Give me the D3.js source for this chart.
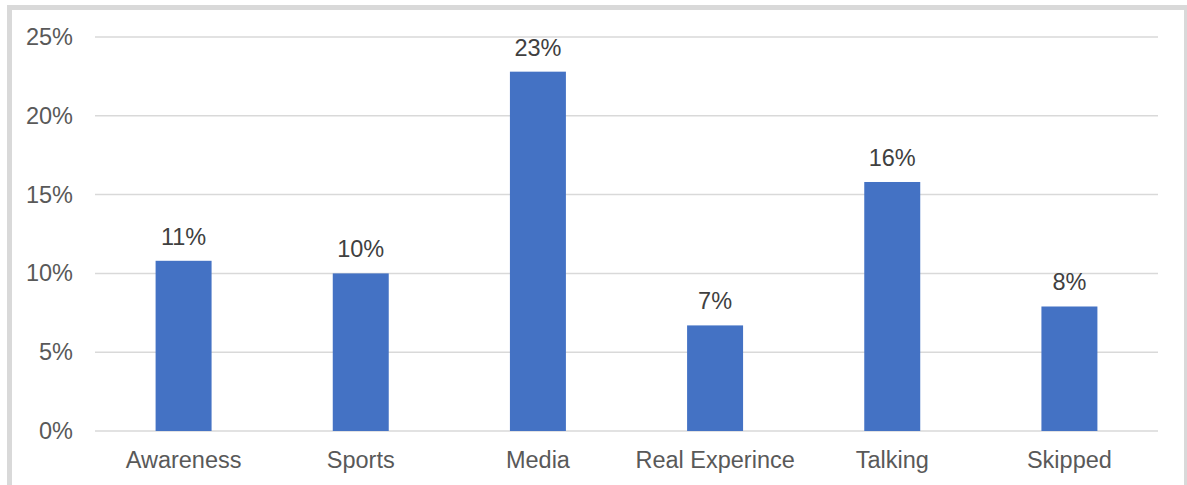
<!DOCTYPE html>
<html>
<head>
<meta charset="utf-8">
<script src="https://cdn.jsdelivr.net/npm/d3@7"></script>
<style>
  html, body { margin: 0; padding: 0; background: #fff; overflow: hidden; }
  svg { display: block; }
</style>
</head>
<body>
<svg id="chart" width="1187" height="485"></svg>
<script>
// Share of responses per source
const categories = ["Awareness", "Sports", "Media", "Real Experince", "Talking", "Skipped"];
const values = [0.108, 0.100, 0.228, 0.067, 0.158, 0.079];
const yTicks = [0, 0.05, 0.10, 0.15, 0.20, 0.25];

const svg = d3.select("#chart");
const font = "'Liberation Sans', Arial, sans-serif";
const fontSize = "23.5px";
const textColor = "#595959";

// Outer frame
svg.append("rect")
  .attr("x", 9.5).attr("y", 7.5)
  .attr("width", 1177).attr("height", 490)
  .attr("fill", "none")
  .attr("stroke", "#d9d9d9")
  .attr("stroke-width", 5);

const plot = { left: 95, right: 1158, top: 37, bottom: 431 };

const x = d3.scaleBand().domain(categories).range([plot.left, plot.right]).padding(0);
const y = d3.scaleLinear().domain([0, 0.25]).range([plot.bottom, plot.top]);
const barW = x.bandwidth() * 0.316;

// Horizontal gridlines
svg.append("g")
  .selectAll("line")
  .data(yTicks)
  .join("line")
  .attr("x1", plot.left).attr("x2", plot.right)
  .attr("y1", d => y(d)).attr("y2", d => y(d))
  .attr("stroke", "#d9d9d9")
  .attr("stroke-width", 1.5);

// Y axis labels
const yAxis = d3.axisLeft(y).tickValues(yTicks).tickFormat(d3.format(".0%")).tickSize(0).tickPadding(22);
const gy = svg.append("g").attr("transform", `translate(${plot.left},0)`).call(yAxis);
gy.select(".domain").remove();
gy.selectAll("text")
  .attr("fill", textColor)
  .style("font-family", font)
  .style("font-size", fontSize);

// Bars
svg.append("g")
  .selectAll("rect")
  .data(values)
  .join("rect")
  .attr("x", (d, i) => x(categories[i]) + x.bandwidth() / 2 - barW / 2)
  .attr("y", d => y(d))
  .attr("width", barW)
  .attr("height", d => y(0) - y(d))
  .attr("fill", "#4472c4");

// Value labels
svg.append("g")
  .selectAll("text")
  .data(values)
  .join("text")
  .attr("x", (d, i) => x(categories[i]) + x.bandwidth() / 2)
  .attr("y", d => y(d) - 16)
  .attr("text-anchor", "middle")
  .attr("fill", "#404040")
  .style("font-family", font)
  .style("font-size", fontSize)
  .text(d => d3.format(".0%")(d));

// Category labels
const xAxis = d3.axisBottom(x).tickSize(0).tickPadding(20);
const gx = svg.append("g").attr("transform", `translate(0,${plot.bottom})`).call(xAxis);
gx.select(".domain").remove();
gx.selectAll("text")
  .attr("fill", textColor)
  .style("font-family", font)
  .style("font-size", fontSize);
</script>
</body>
</html>
